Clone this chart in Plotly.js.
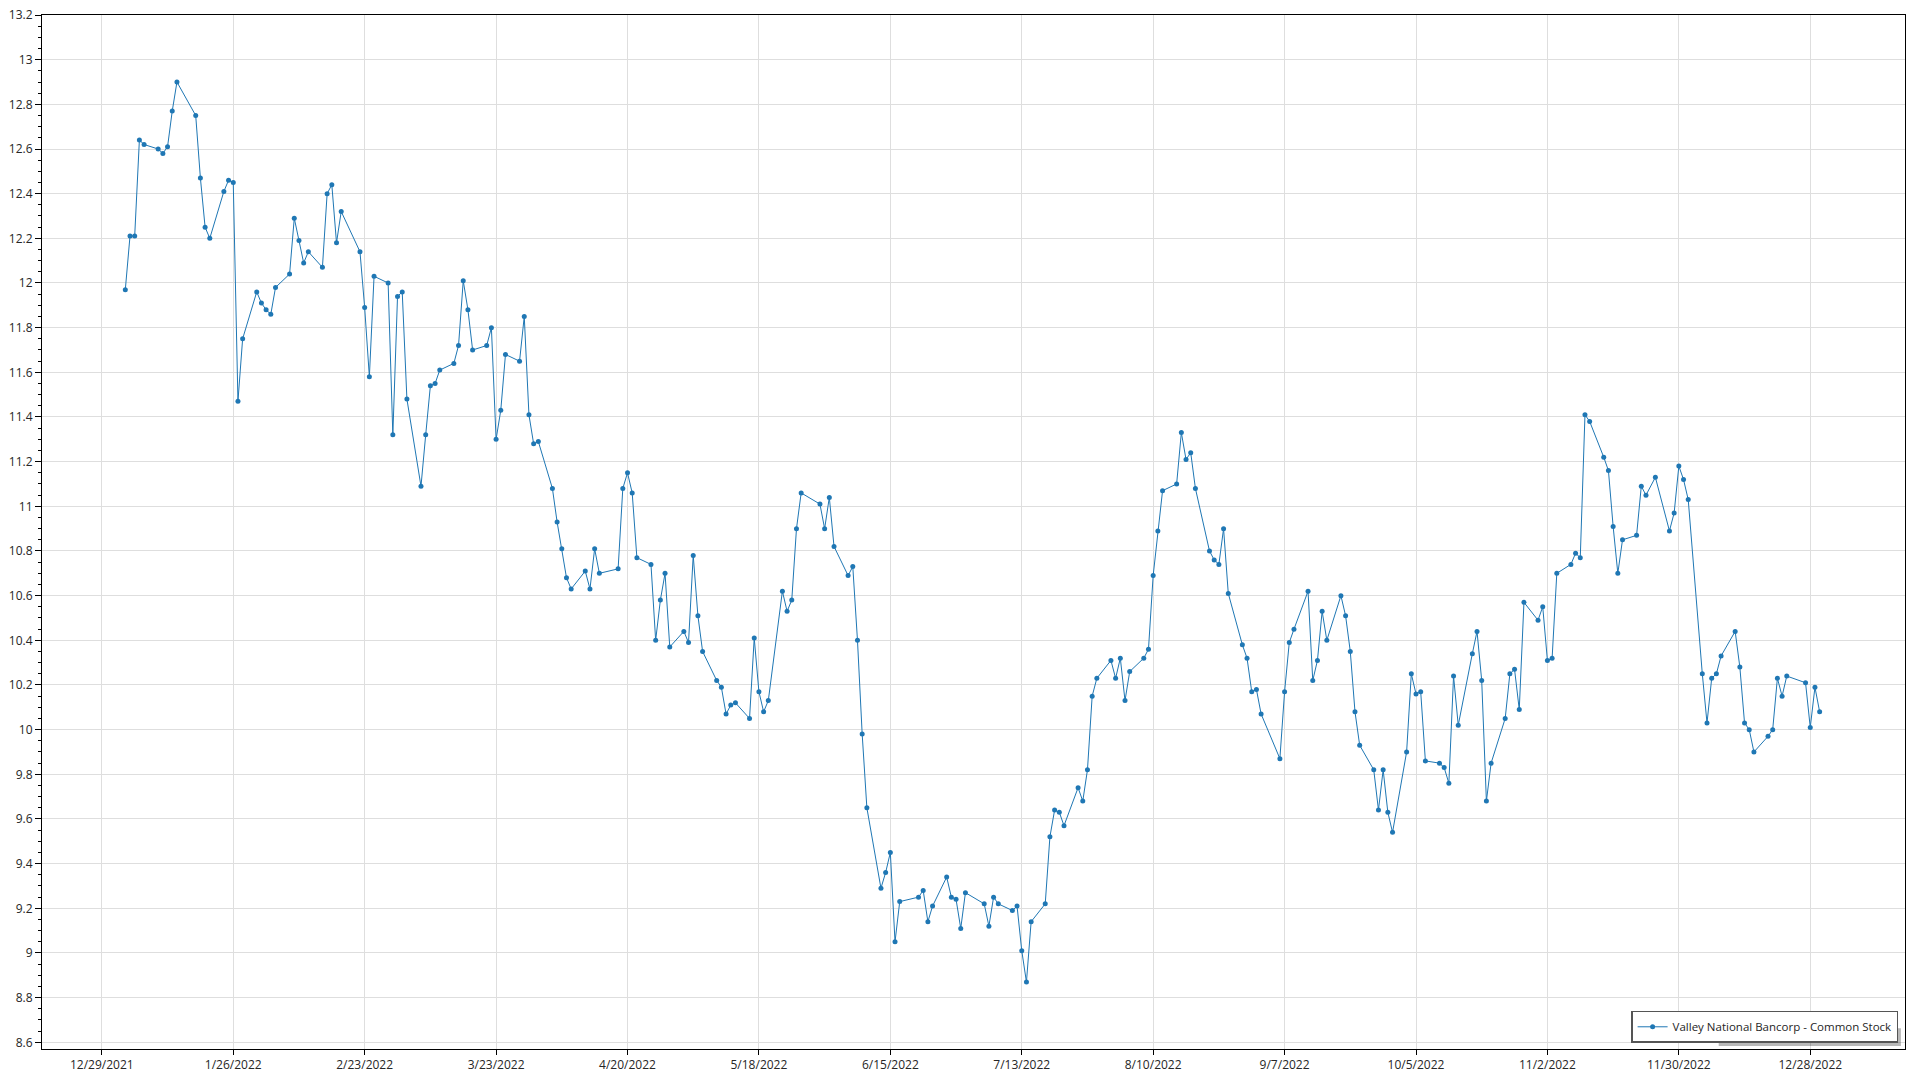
<!DOCTYPE html>
<html>
<head>
<meta charset="utf-8">
<script src="https://cdn.plot.ly/plotly-3.0.1.min.js"></script>
<style>
  html, body { margin: 0; padding: 0; background: #ffffff; }
  #chart { width: 1920px; height: 1080px; }
</style>
</head>
<body>
<div id="chart"></div>
<script>
const seriesName = "Valley National Bancorp - Common Stock";

const dates = [
  "2022-01-03","2022-01-04","2022-01-05","2022-01-06","2022-01-07",
  "2022-01-10","2022-01-11","2022-01-12","2022-01-13","2022-01-14",
  "2022-01-18","2022-01-19","2022-01-20","2022-01-21",
  "2022-01-24","2022-01-25","2022-01-26","2022-01-27","2022-01-28",
  "2022-01-31","2022-02-01","2022-02-02","2022-02-03","2022-02-04",
  "2022-02-07","2022-02-08","2022-02-09","2022-02-10","2022-02-11",
  "2022-02-14","2022-02-15","2022-02-16","2022-02-17","2022-02-18",
  "2022-02-22","2022-02-23","2022-02-24","2022-02-25",
  "2022-02-28","2022-03-01","2022-03-02","2022-03-03","2022-03-04",
  "2022-03-07","2022-03-08","2022-03-09","2022-03-10","2022-03-11",
  "2022-03-14","2022-03-15","2022-03-16","2022-03-17","2022-03-18",
  "2022-03-21","2022-03-22","2022-03-23","2022-03-24","2022-03-25",
  "2022-03-28","2022-03-29","2022-03-30","2022-03-31","2022-04-01",
  "2022-04-04","2022-04-05","2022-04-06","2022-04-07","2022-04-08",
  "2022-04-11","2022-04-12","2022-04-13","2022-04-14",
  "2022-04-18","2022-04-19","2022-04-20","2022-04-21","2022-04-22",
  "2022-04-25","2022-04-26","2022-04-27","2022-04-28","2022-04-29",
  "2022-05-02","2022-05-03","2022-05-04","2022-05-05","2022-05-06",
  "2022-05-09","2022-05-10","2022-05-11","2022-05-12","2022-05-13",
  "2022-05-16","2022-05-17","2022-05-18","2022-05-19","2022-05-20",
  "2022-05-23","2022-05-24","2022-05-25","2022-05-26","2022-05-27",
  "2022-05-31","2022-06-01","2022-06-02","2022-06-03",
  "2022-06-06","2022-06-07","2022-06-08","2022-06-09","2022-06-10",
  "2022-06-13","2022-06-14","2022-06-15","2022-06-16","2022-06-17",
  "2022-06-21","2022-06-22","2022-06-23","2022-06-24",
  "2022-06-27","2022-06-28","2022-06-29","2022-06-30","2022-07-01",
  "2022-07-05","2022-07-06","2022-07-07","2022-07-08",
  "2022-07-11","2022-07-12","2022-07-13","2022-07-14","2022-07-15",
  "2022-07-18","2022-07-19","2022-07-20","2022-07-21","2022-07-22",
  "2022-07-25","2022-07-26","2022-07-27","2022-07-28","2022-07-29",
  "2022-08-01","2022-08-02","2022-08-03","2022-08-04","2022-08-05",
  "2022-08-08","2022-08-09","2022-08-10","2022-08-11","2022-08-12",
  "2022-08-15","2022-08-16","2022-08-17","2022-08-18","2022-08-19",
  "2022-08-22","2022-08-23","2022-08-24","2022-08-25","2022-08-26",
  "2022-08-29","2022-08-30","2022-08-31","2022-09-01","2022-09-02",
  "2022-09-06","2022-09-07","2022-09-08","2022-09-09",
  "2022-09-12","2022-09-13","2022-09-14","2022-09-15","2022-09-16",
  "2022-09-19","2022-09-20","2022-09-21","2022-09-22","2022-09-23",
  "2022-09-26","2022-09-27","2022-09-28","2022-09-29","2022-09-30",
  "2022-10-03","2022-10-04","2022-10-05","2022-10-06","2022-10-07",
  "2022-10-10","2022-10-11","2022-10-12","2022-10-13","2022-10-14",
  "2022-10-17","2022-10-18","2022-10-19","2022-10-20","2022-10-21",
  "2022-10-24","2022-10-25","2022-10-26","2022-10-27","2022-10-28",
  "2022-10-31","2022-11-01","2022-11-02","2022-11-03","2022-11-04",
  "2022-11-07","2022-11-08","2022-11-09","2022-11-10","2022-11-11",
  "2022-11-14","2022-11-15","2022-11-16","2022-11-17","2022-11-18",
  "2022-11-21","2022-11-22","2022-11-23","2022-11-25",
  "2022-11-28","2022-11-29","2022-11-30","2022-12-01","2022-12-02",
  "2022-12-05","2022-12-06","2022-12-07","2022-12-08","2022-12-09",
  "2022-12-12","2022-12-13","2022-12-14","2022-12-15","2022-12-16",
  "2022-12-19","2022-12-20","2022-12-21","2022-12-22","2022-12-23",
  "2022-12-27","2022-12-28","2022-12-29","2022-12-30"
];

const closePrices = [
  11.97,12.21,12.21,12.64,12.62,
  12.60,12.58,12.61,12.77,12.90,
  12.75,12.47,12.25,12.20,
  12.41,12.46,12.45,11.47,11.75,
  11.96,11.91,11.88,11.86,11.98,
  12.04,12.29,12.19,12.09,12.14,
  12.07,12.40,12.44,12.18,12.32,
  12.14,11.89,11.58,12.03,
  12.00,11.32,11.94,11.96,11.48,
  11.09,11.32,11.54,11.55,11.61,
  11.64,11.72,12.01,11.88,11.70,
  11.72,11.80,11.30,11.43,11.68,
  11.65,11.85,11.41,11.28,11.29,
  11.08,10.93,10.81,10.68,10.63,
  10.71,10.63,10.81,10.70,
  10.72,11.08,11.15,11.06,10.77,
  10.74,10.40,10.58,10.70,10.37,
  10.44,10.39,10.78,10.51,10.35,
  10.22,10.19,10.07,10.11,10.12,
  10.05,10.41,10.17,10.08,10.13,
  10.62,10.53,10.58,10.90,11.06,
  11.01,10.90,11.04,10.82,
  10.69,10.73,10.40,9.98,9.65,
  9.29,9.36,9.45,9.05,9.23,
  9.25,9.28,9.14,9.21,
  9.34,9.25,9.24,9.11,9.27,
  9.22,9.12,9.25,9.22,
  9.19,9.21,9.01,8.87,9.14,
  9.22,9.52,9.64,9.63,9.57,
  9.74,9.68,9.82,10.15,10.23,
  10.31,10.23,10.32,10.13,10.26,
  10.32,10.36,10.69,10.89,11.07,
  11.10,11.33,11.21,11.24,11.08,
  10.80,10.76,10.74,10.90,10.61,
  10.38,10.32,10.17,10.18,10.07,
  9.87,10.17,10.39,10.45,
  10.62,10.22,10.31,10.53,10.40,
  10.60,10.51,10.35,10.08,9.93,
  9.82,9.64,9.82,9.63,9.54,
  9.90,10.25,10.16,10.17,9.86,
  9.85,9.83,9.76,10.24,10.02,
  10.34,10.44,10.22,9.68,9.85,
  10.05,10.25,10.27,10.09,10.57,
  10.49,10.55,10.31,10.32,10.70,
  10.74,10.79,10.77,11.41,11.38,
  11.22,11.16,10.91,10.70,10.85,
  10.87,11.09,11.05,11.13,
  10.89,10.97,11.18,11.12,11.03,
  10.25,10.03,10.23,10.25,10.33,
  10.44,10.28,10.03,10.00,9.90,
  9.97,10.00,10.23,10.15,10.24,
  10.21,10.01,10.19,10.08
];

const xTickStart = "2021-12-29";
const xTickStepDays = 28;
const yTickStep = 0.2;

const fontFamily = "'Segoe UI', 'Open Sans', 'Noto Sans', sans-serif";

const trace = {
  type: "scatter",
  mode: "lines+markers",
  name: seriesName,
  x: dates,
  y: closePrices,
  line: { color: "#1f77b4", width: 1 },
  marker: { color: "#1f77b4", size: 5 },
  showlegend: true
};

const layout = {
  width: 1920,
  height: 1080,
  paper_bgcolor: "#ffffff",
  plot_bgcolor: "#ffffff",
  font: { family: fontFamily, size: 12, color: "#262626" },
  margin: { l: 42, r: 15, t: 15, b: 31, pad: 0 },
  showlegend: true,
  legend: {
    x: 0.9963, y: 0.006, xanchor: "right", yanchor: "bottom",
    bgcolor: "#ffffff", bordercolor: "#555555", borderwidth: 1.5,
    font: { family: fontFamily, size: 11.5, color: "#262626" },
    itemwidth: 30
  },
  shapes: [
    {
      type: "rect", xref: "paper", yref: "paper", layer: "above",
      x0: 0.9, x1: 0.9978, y0: 0.0028, y1: 0.02,
      fillcolor: "rgba(0,0,0,0.28)", line: { width: 0 }
    }
  ],
  xaxis: {
    type: "date",
    range: ["2021-12-16 06:00", "2023-01-17 04:30"],
    tick0: xTickStart,
    dtick: xTickStepDays * 86400000,
    tickformat: "%-m/%-d/%Y",
    ticks: "outside",
    ticklen: 5,
    tickcolor: "#000000",
    showline: true,
    linecolor: "#000000",
    linewidth: 1,
    mirror: true,
    showgrid: true,
    gridcolor: "#dedede",
    gridwidth: 1,
    zeroline: false,
    tickfont: { family: fontFamily, size: 12, color: "#262626" }
  },
  yaxis: {
    range: [8.57, 13.2],
    tick0: 8.6,
    dtick: yTickStep,
    ticks: "outside",
    ticklen: 6,
    tickcolor: "#000000",
    showline: true,
    linecolor: "#000000",
    linewidth: 1,
    mirror: true,
    showgrid: true,
    gridcolor: "#dedede",
    gridwidth: 1,
    zeroline: false,
    minor: { dtick: 0.05, ticks: "outside", ticklen: 3, tickcolor: "#000000", showgrid: false },
    tickfont: { family: fontFamily, size: 12, color: "#262626" }
  }
};

Plotly.newPlot("chart", [trace], layout, { displayModeBar: false, staticPlot: true });
</script>
</body>
</html>
